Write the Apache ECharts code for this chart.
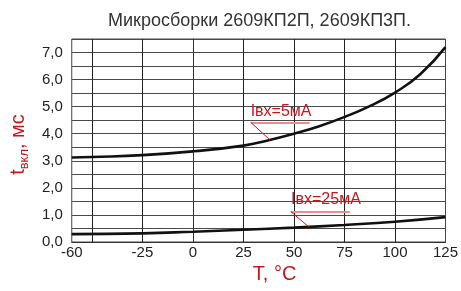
<!DOCTYPE html>
<html lang="ru">
<head>
<meta charset="UTF-8">
<title>Микросборки 2609КП2П</title>
<script src="https://cdn.jsdelivr.net/npm/echarts@6/dist/echarts.min.js"></script>
<style>
	html, body { margin: 0; padding: 0; background: #fff; }
	#main { width: 461px; height: 291px; }
</style>
</head>
<body>
<div id="main"></div>
<script>
// значения
var temps5 = [-60, -50, -25, 0, 25, 37.5, 50, 62.5, 75, 87.5, 100, 112.5, 125];
var tOn5 = [3.12, 3.14, 3.21, 3.35, 3.56, 3.76, 4.0, 4.28, 4.62, 5.02, 5.52, 6.2, 7.2];
var temps25 = [-60, -25, 0, 25, 50, 75, 100, 125];
var tOn25 = [0.29, 0.32, 0.38, 0.45, 0.53, 0.63, 0.75, 0.92];
var xLabels = [-60, -25, 0, 25, 50, 75, 100, 125];
var xGrid = [-50, -25, 0, 25, 50, 75, 100];
var names = ['Iвх=5мА', 'Iвх=25мА'];

var RED = '#c8161e';
var FONT = 'Liberation Sans, Arial, sans-serif';

function pairs(xs, ys) {
	return xs.map(function (x, i) { return [x, ys[i]]; });
}

// подпись с подчёркиванием и выноской к кривой
function note(text, textAt, y, x0, x1, tip) {
	return {
		markPoint: {
			silent: true,
			animation: false,
			symbol: 'circle',
			symbolSize: 1,
			itemStyle: { color: 'rgba(0,0,0,0)' },
			label: {
				show: true,
				position: [0, 0],
				align: 'left',
				verticalAlign: 'bottom',
				formatter: text,
				color: RED,
				fontSize: 16,
				fontFamily: FONT
			},
			data: [{ coord: textAt }]
		},
		markLine: {
			silent: true,
			animation: false,
			symbol: ['none', 'none'],
			label: { show: false },
			data: [
				[{ coord: [x0, y], lineStyle: { color: '#ec8c8c', width: 2, type: 'solid' } }, { coord: [x1, y] }],
				[{ coord: [x0, y], lineStyle: { color: RED, width: 1, type: 'solid' } }, { coord: tip }]
			]
		}
	};
}

var chart = echarts.init(document.getElementById('main'));

var n5 = note(names[0], [28.8, 4.49], 4.42, 28.6, 57.8, [38, 3.78]);
var n25 = note(names[1], [48.8, 1.25], 1.125, 48.4, 77.6, [57.3, 0.56]);

chart.setOption({
	animation: false,
	backgroundColor: '#fff',
	title: {
		text: 'Микросборки 2609КП2П, 2609КП3П.',
		left: 103,
		top: 7,
		textStyle: { fontSize: 18, fontWeight: 'normal', color: '#333', fontFamily: FONT }
	},
	grid: {
		left: 69, right: 12, top: 39, bottom: 49,
		show: true, borderColor: '#444', borderWidth: 1
	},
	xAxis: {
		type: 'value',
		min: -60,
		max: 125,
		name: 'T, °C',
		nameLocation: 'middle',
		nameGap: 22,
		nameTextStyle: { color: RED, fontSize: 20, fontFamily: FONT, padding: [0, 0, 0, 32] },
		axisLine: { show: true, lineStyle: { color: '#333' } },
		axisTick: { show: false, customValues: xGrid },
		axisLabel: { customValues: xLabels, color: '#222', fontSize: 15, fontFamily: FONT, margin: 3 },
		splitLine: { show: true, lineStyle: { color: '#222', width: 1 } }
	},
	yAxis: {
		type: 'value',
		min: 0,
		max: 7.5,
		interval: 0.5,
		name: '{t|t}{s|вкл}{n|, мс}',
		nameLocation: 'middle',
		nameGap: 40,
		nameTextStyle: {
			color: RED,
			fontFamily: FONT,
			padding: [0, 8, 0, 0],
			rich: {
				t: { fontSize: 20, lineHeight: 26, color: RED, fontFamily: FONT },
				s: { fontSize: 13, lineHeight: 13, verticalAlign: 'bottom', color: RED, fontFamily: FONT },
				n: { fontSize: 20, lineHeight: 26, color: RED, fontFamily: FONT }
			}
		},
		axisLine: { show: true, lineStyle: { color: '#333' } },
		axisTick: { show: false },
		axisLabel: {
			color: '#222', fontSize: 15, fontFamily: FONT, margin: 9,
			formatter: function (v) {
				return v % 1 === 0 ? v.toFixed(1).replace('.', ',') : '';
			}
		},
		splitLine: { show: true, lineStyle: { color: '#4a4a4a', width: 1 } }
	},
	series: [{
		name: names[0],
		type: 'line',
		smooth: true,
		symbol: 'none',
		lineStyle: { color: '#111', width: 2.6 },
		data: pairs(temps5, tOn5),
		markPoint: n5.markPoint,
		markLine: n5.markLine
	}, {
		name: names[1],
		type: 'line',
		smooth: true,
		symbol: 'none',
		lineStyle: { color: '#111', width: 2.6 },
		data: pairs(temps25, tOn25),
		markPoint: n25.markPoint,
		markLine: n25.markLine
	}]
});
</script>
</body>
</html>
